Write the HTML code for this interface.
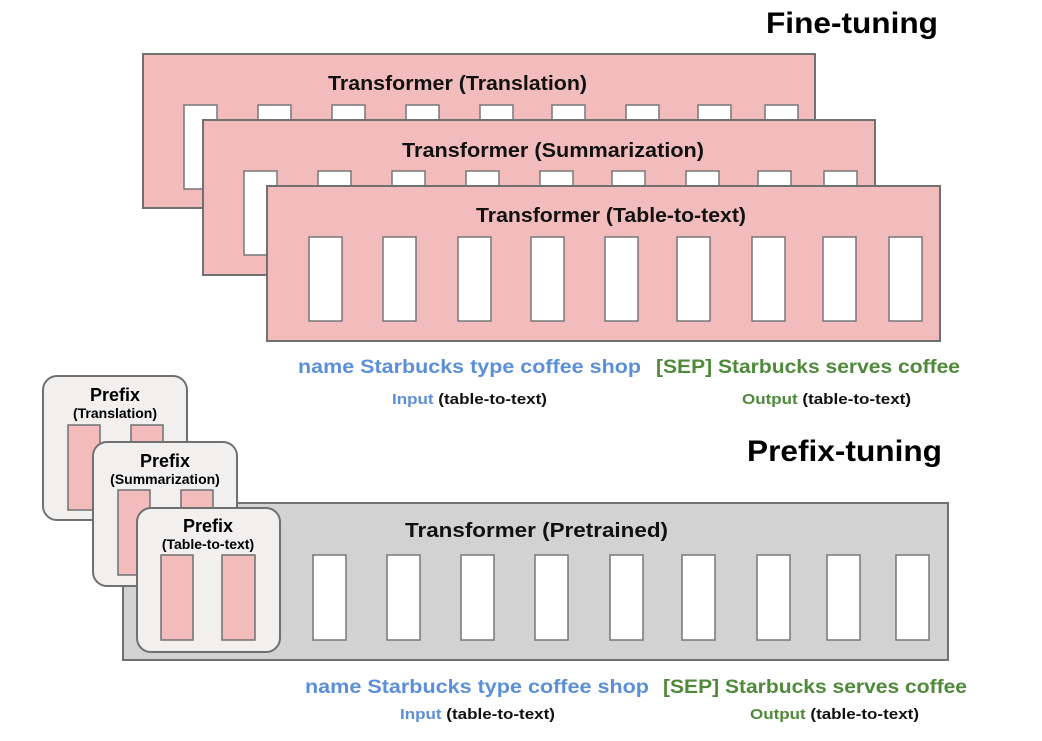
<!DOCTYPE html>
<html><head><meta charset="utf-8"><style>
html,body{margin:0;padding:0;background:#fff}
svg text{font-family:"Liberation Sans",sans-serif;font-weight:bold}
</style></head><body>
<svg width="1042" height="736" viewBox="0 0 1042 736" xmlns="http://www.w3.org/2000/svg">
<text x="766" y="33" font-size="30" fill="#000" textLength="172" lengthAdjust="spacingAndGlyphs">Fine-tuning</text>
<!-- Box1 -->
<rect x="143" y="54" width="672" height="154" fill="#f2bcbd" stroke="#707070" stroke-width="2"/>
<text x="328" y="90" font-size="20" fill="#111" textLength="259" lengthAdjust="spacingAndGlyphs">Transformer (Translation)</text>
<g fill="#fff" stroke="#777" stroke-width="1.5">
<rect x="184" y="105" width="33" height="84"/><rect x="258" y="105" width="33" height="84"/><rect x="332" y="105" width="33" height="84"/><rect x="406" y="105" width="33" height="84"/><rect x="480" y="105" width="33" height="84"/><rect x="552" y="105" width="33" height="84"/><rect x="626" y="105" width="33" height="84"/><rect x="698" y="105" width="33" height="84"/><rect x="765" y="105" width="33" height="84"/>
</g>
<!-- Box2 -->
<rect x="203" y="120" width="672" height="155" fill="#f2bcbd" stroke="#707070" stroke-width="2"/>
<text x="402" y="157" font-size="20" fill="#111" textLength="302" lengthAdjust="spacingAndGlyphs">Transformer (Summarization)</text>
<g fill="#fff" stroke="#777" stroke-width="1.5">
<rect x="244" y="171" width="33" height="84"/><rect x="318" y="171" width="33" height="84"/><rect x="392" y="171" width="33" height="84"/><rect x="466" y="171" width="33" height="84"/><rect x="540" y="171" width="33" height="84"/><rect x="612" y="171" width="33" height="84"/><rect x="686" y="171" width="33" height="84"/><rect x="758" y="171" width="33" height="84"/><rect x="824" y="171" width="33" height="84"/>
</g>
<!-- Box3 -->
<rect x="267" y="186" width="673" height="155" fill="#f2bcbd" stroke="#707070" stroke-width="2"/>
<text x="476" y="222" font-size="20" fill="#111" textLength="270" lengthAdjust="spacingAndGlyphs">Transformer (Table-to-text)</text>
<g fill="#fff" stroke="#777" stroke-width="1.5">
<rect x="309" y="237" width="33" height="84"/><rect x="383" y="237" width="33" height="84"/><rect x="458" y="237" width="33" height="84"/><rect x="531" y="237" width="33" height="84"/><rect x="605" y="237" width="33" height="84"/><rect x="677" y="237" width="33" height="84"/><rect x="752" y="237" width="33" height="84"/><rect x="823" y="237" width="33" height="84"/><rect x="889" y="237" width="33" height="84"/>
</g>
<text x="298" y="373" font-size="19" fill="#5b8fd8" textLength="343" lengthAdjust="spacingAndGlyphs">name  Starbucks  type  coffee  shop</text>
<text x="656" y="373" font-size="19" fill="#4f8a3a" textLength="304" lengthAdjust="spacingAndGlyphs">[SEP] Starbucks  serves  coffee</text>
<text x="392" y="404" font-size="15" fill="#111" textLength="155" lengthAdjust="spacingAndGlyphs"><tspan fill="#5b8fd8">Input</tspan> (table-to-text)</text>
<text x="742" y="404" font-size="15" fill="#111" textLength="169" lengthAdjust="spacingAndGlyphs"><tspan fill="#4f8a3a">Output</tspan> (table-to-text)</text>
<text x="747" y="461" font-size="30" fill="#000" textLength="195" lengthAdjust="spacingAndGlyphs">Prefix-tuning</text>
<!-- Gray -->
<rect x="123" y="503" width="825" height="157" fill="#d2d2d2" stroke="#707070" stroke-width="2"/>
<text x="405" y="537" font-size="20" fill="#111" textLength="263" lengthAdjust="spacingAndGlyphs">Transformer  (Pretrained)</text>
<g fill="#fff" stroke="#777" stroke-width="1.5">
<rect x="313" y="555" width="33" height="85"/><rect x="387" y="555" width="33" height="85"/><rect x="461" y="555" width="33" height="85"/><rect x="535" y="555" width="33" height="85"/><rect x="610" y="555" width="33" height="85"/><rect x="682" y="555" width="33" height="85"/><rect x="757" y="555" width="33" height="85"/><rect x="827" y="555" width="33" height="85"/><rect x="896" y="555" width="33" height="85"/>
</g>
<!-- Prefix boxes -->
<g stroke="#707070" stroke-width="2">
<rect x="43" y="376" width="144" height="144" rx="14" fill="#f2efef"/>
<rect x="68" y="425" width="32" height="85" fill="#f2bcbd" stroke-width="1.5"/><rect x="131" y="425" width="32" height="85" fill="#f2bcbd" stroke-width="1.5"/>
</g>
<text x="115" y="401" font-size="18" text-anchor="middle">Prefix</text>
<text x="115" y="418" font-size="14" text-anchor="middle">(Translation)</text>
<g stroke="#707070" stroke-width="2">
<rect x="93" y="442" width="144" height="144" rx="14" fill="#f2efef"/>
<rect x="118" y="490" width="32" height="85" fill="#f2bcbd" stroke-width="1.5"/><rect x="181" y="490" width="32" height="85" fill="#f2bcbd" stroke-width="1.5"/>
</g>
<text x="165" y="467" font-size="18" text-anchor="middle">Prefix</text>
<text x="165" y="484" font-size="14" text-anchor="middle">(Summarization)</text>
<g stroke="#707070" stroke-width="2">
<rect x="137" y="508" width="143" height="144" rx="14" fill="#f2efef"/>
<rect x="161" y="555" width="32" height="85" fill="#f2bcbd" stroke-width="1.5"/><rect x="222" y="555" width="33" height="85" fill="#f2bcbd" stroke-width="1.5"/>
</g>
<text x="208" y="532" font-size="18" text-anchor="middle">Prefix</text>
<text x="208" y="549" font-size="14" text-anchor="middle">(Table-to-text)</text>
<text x="305" y="693" font-size="19" fill="#5b8fd8" textLength="344" lengthAdjust="spacingAndGlyphs">name  Starbucks  type  coffee  shop</text>
<text x="663" y="693" font-size="19" fill="#4f8a3a" textLength="304" lengthAdjust="spacingAndGlyphs">[SEP] Starbucks  serves  coffee</text>
<text x="400" y="719" font-size="15" fill="#111" textLength="155" lengthAdjust="spacingAndGlyphs"><tspan fill="#5b8fd8">Input</tspan> (table-to-text)</text>
<text x="750" y="719" font-size="15" fill="#111" textLength="169" lengthAdjust="spacingAndGlyphs"><tspan fill="#4f8a3a">Output</tspan> (table-to-text)</text>
</svg>
</body></html>
